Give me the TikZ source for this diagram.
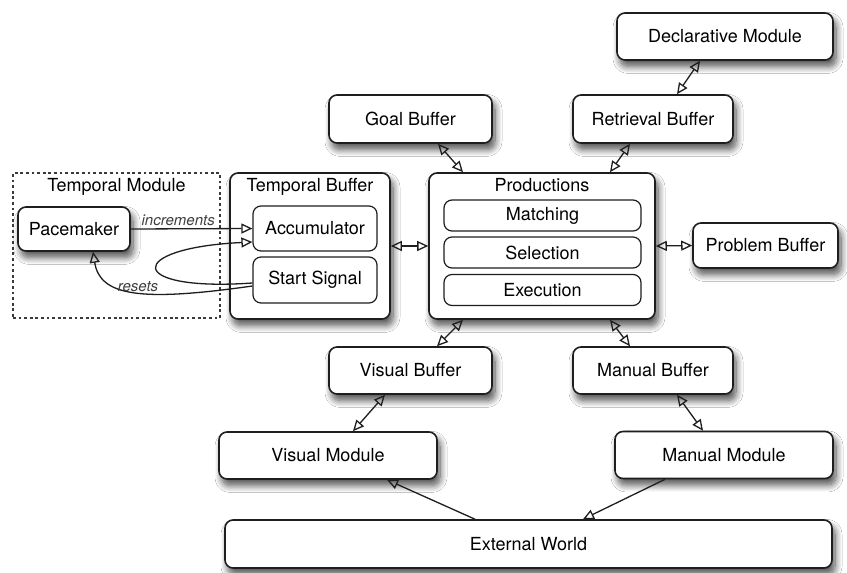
\documentclass[tikz,border=0pt]{standalone}
\usepackage{fontspec}
\setmainfont{TeX Gyre Heros}
\usetikzlibrary{arrows.meta,shadows.blur}
\definecolor{ink}{HTML}{1E1E1E}
\definecolor{dotgrey}{HTML}{3A3A3A}
\tikzset{
  unit/.style={draw=ink,fill=white,rounded corners=4pt,line width=0.8pt,align=center,
    font=\fontsize{9}{11}\selectfont,minimum width=#1,minimum height=23.5pt,inner sep=2pt,
    blur shadow={shadow xshift=1.5pt,shadow yshift=-3.2pt,shadow blur radius=3.5pt,shadow blur steps=10,shadow opacity=70}},
  unit/.default=80pt,
  part/.style={draw=ink,fill=white,rounded corners=4pt,line width=0.6pt,align=center,
    font=\fontsize{9}{11}\selectfont,minimum width=#1,minimum height=22.5pt,inner sep=2pt},
  part/.default=62pt,
  title/.style={font=\fontsize{9}{11}\selectfont,anchor=north,inner sep=3pt},
  both/.style={{Triangle[open,length=5.5pt,width=5pt]}-{Triangle[open,length=5.5pt,width=5pt]},line width=0.65pt,draw=ink},
  one/.style={-{Triangle[open,length=5.5pt,width=5pt]},line width=0.65pt,draw=ink},
  lbl/.style={font=\fontsize{7.5}{9}\selectfont\itshape,text=ink!85,inner sep=1pt},
}

\begin{document}
\begin{tikzpicture}[x=0.5pt,y=-0.5pt]
  \useasboundingbox[fill=white] (0,0) rectangle (847,573);
  % temporal module (dotted frame)
  \node[draw=dotgrey,line width=0.7pt,dash pattern=on 1.4pt off 1.4pt,minimum width=103.5pt,minimum height=72.5pt] (tmod) at (116.5,245.5) {};
  \node[title] (tmodt) at (tmod.north) {Temporal Module};
  \node[unit=56pt,minimum height=22pt] (pace) at (74,229) {Pacemaker};
  % top row
  \node[unit=108pt] (decl) at (725,36.5) {Declarative Module};
  \node[unit=81.5pt,minimum height=24pt] (goal) at (410.5,119) {Goal Buffer};
  \node[unit=80pt,minimum height=24pt] (retr) at (653,119) {Retrieval Buffer};
  % temporal buffer
  \node[unit=80pt,minimum height=73pt] (tbuf) at (310,246) {};
  \node[title] (tbuft) at (tbuf.north) {Temporal Buffer};
  \node[part] (acc) at (315,228.5) {Accumulator};
  \node[part,minimum height=23pt] (start) at (315,280) {Start Signal};
  % productions
  \node[unit=113pt,minimum height=73pt] (prod) at (542,246) {};
  \node[title] (prodt) at (prod.north) {Productions};
  \node[part=98.5pt,minimum height=15.5pt] (match) at (542.5,215.5) {Matching};
  \node[part=98.5pt,minimum height=15.5pt] (sel) at (542.5,252.5) {Selection};
  \node[part=98.5pt,minimum height=15.5pt] (exec) at (542.5,290) {Execution};
  \node[unit=72.5pt,minimum height=22.5pt] (prob) at (765.5,245.5) {Problem Buffer};
  % lower rows
  \node[unit=81.5pt] (vbuf) at (410.5,370.5) {Visual Buffer};
  \node[unit=80pt] (mbuf) at (653,370.5) {Manual Buffer};
  \node[unit=109pt] (vmod) at (328,455.5) {Visual Module};
  \node[unit=109pt] (mmod) at (724,455) {Manual Module};
  \node[unit=303.5pt,minimum height=24pt] (world) at (528.5,544) {External World};
  % buffers <-> productions
  \draw[both] ([xshift=-12.5pt]decl.south) -- ([xshift=12pt]retr.north);
  \draw[both] ([xshift=13.75pt]goal.south) -- ([xshift=-39.5pt]prod.north);
  \draw[both] ([xshift=-11.5pt]retr.south) -- ([xshift=34pt]prod.north);
  \draw[both] (tbuf.east) -- (prod.west);
  \draw[both] (prod.east) -- (prob.west);
  \draw[both] ([xshift=-39.5pt]prod.south) -- ([xshift=13.25pt]vbuf.north);
  \draw[both] ([xshift=34pt]prod.south) -- ([xshift=-11.5pt]mbuf.north);
  \draw[both] ([xshift=-12.75pt]vbuf.south) -- ([xshift=12.5pt]vmod.north);
  \draw[both] ([xshift=12pt]mbuf.south) -- ([xshift=-10.5pt]mmod.north);
  \draw[one] ([xshift=-26.75pt]world.north) -- ([xshift=29.5pt]vmod.south);
  \draw[one] ([xshift=-29.5pt]mmod.south) -- ([xshift=27.25pt]world.north);
  % timing loop
  \draw[one] (pace.east) -- node[lbl,above,pos=0.39] (incl) {increments} (acc.west);
  \draw[one] ([yshift=-1.5pt]start.west) .. controls (125,292) and (125,248) .. ([yshift=-6.75pt]acc.west);
  \draw[one] ([yshift=-3pt]start.west) .. controls (140,302) and (100,296) .. ([xshift=9.5pt]pace.south);
  \node[lbl] (resl) at (138,287) {resets};
\end{tikzpicture}
\end{document}
